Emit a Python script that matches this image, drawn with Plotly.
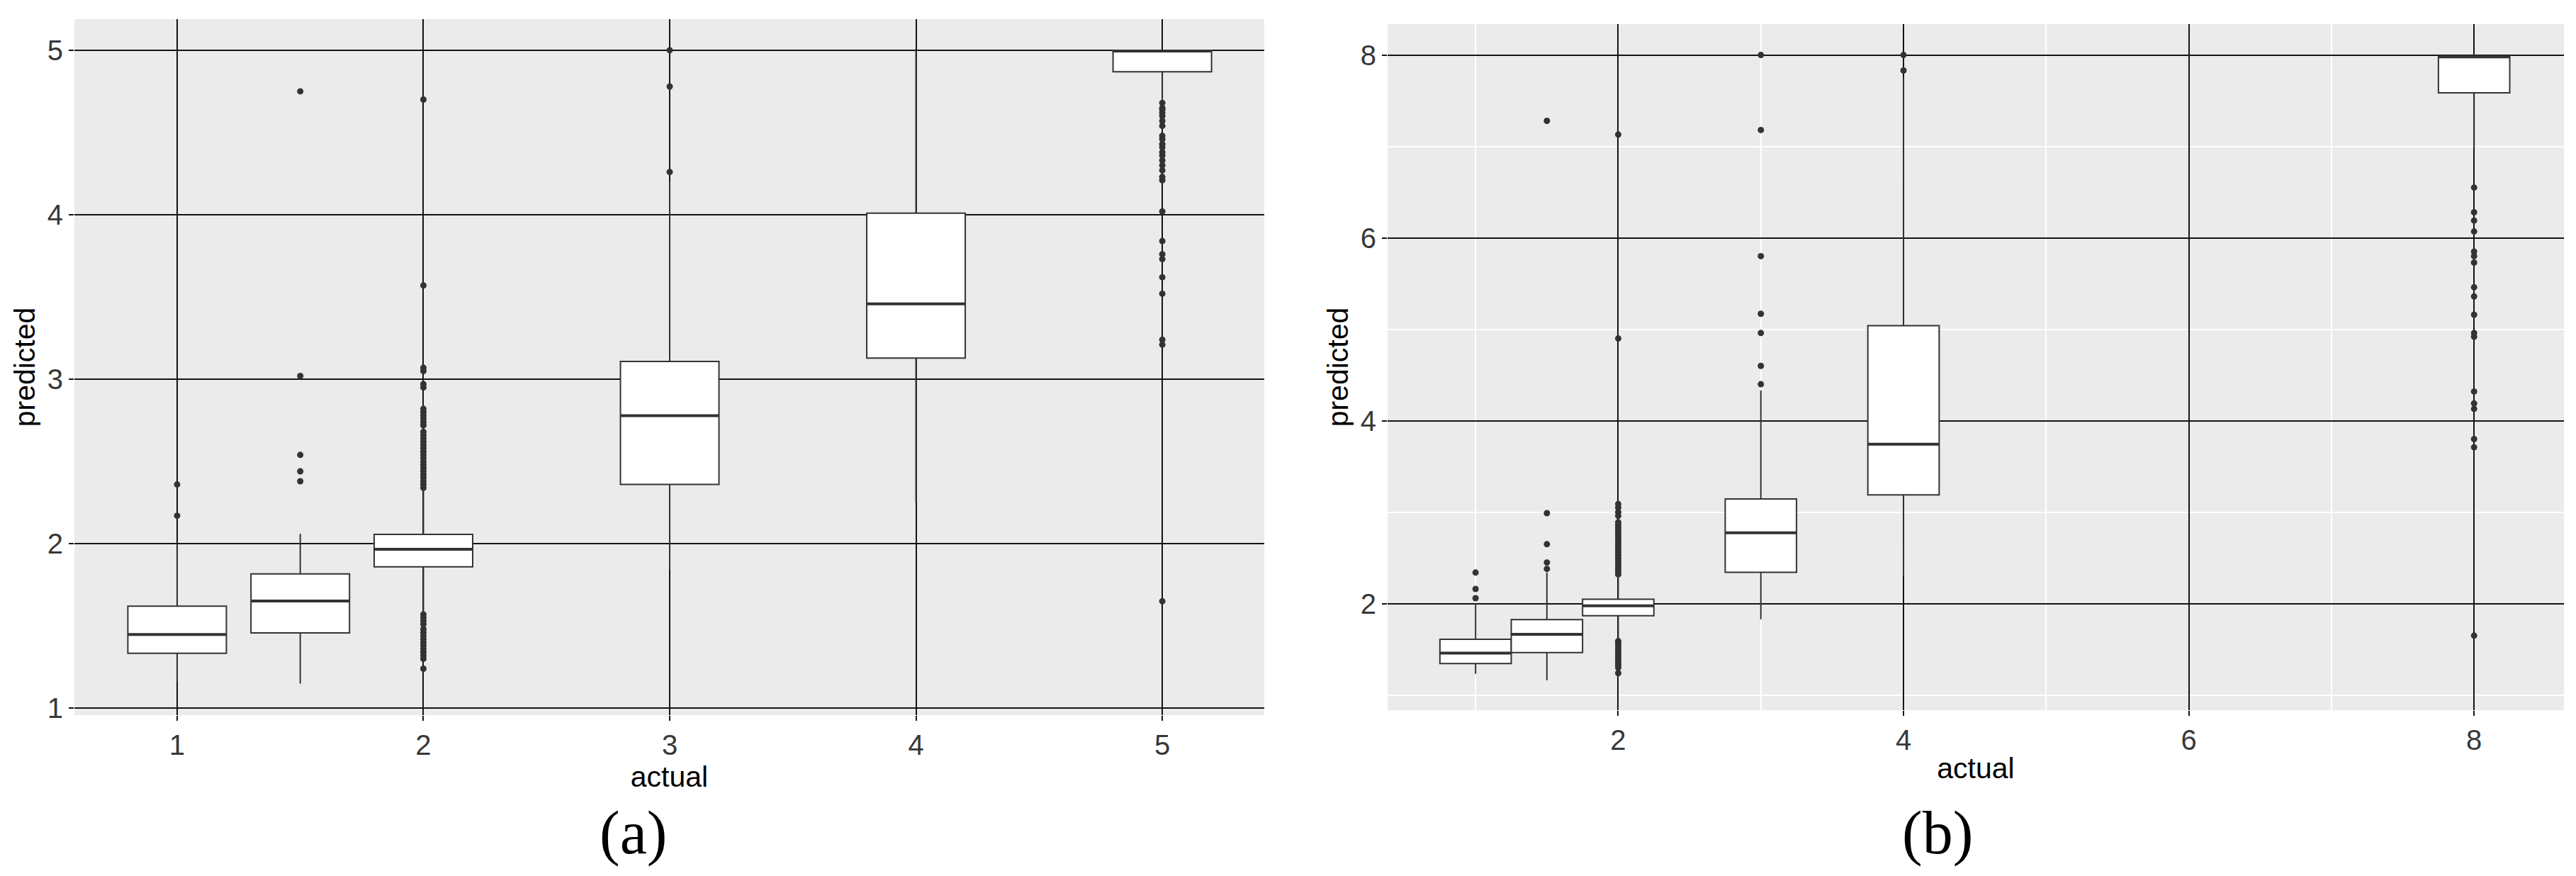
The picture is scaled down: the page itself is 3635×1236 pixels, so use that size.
import plotly.graph_objects as go

# ---- panel (a) ----
a_pos = [1, 1.5, 2, 3, 4, 5]
a_q1 = [1.334, 1.458, 1.859, 2.36, 3.128, 4.869]
a_med = [1.448, 1.652, 1.966, 2.778, 3.458, 4.995]
a_q3 = [1.62, 1.816, 2.057, 3.108, 4.01, 5.0]
a_lo = [1.16, 1.15, 1.58, 1.84, 2.25, 4.69]
a_hi = [2.0, 2.06, 2.33, 4.2, 5.0, 5.0]

a_out_1 = [2.17, 2.36]
a_out_15 = [2.38, 2.44, 2.54, 3.02, 4.75]
a_out_2 = [1.24, 1.30, 1.32, 1.34, 1.36, 1.38, 1.40, 1.42, 1.44, 1.46, 1.48,
           1.51, 1.53, 1.55, 1.57,
           2.34, 2.36, 2.38, 2.40, 2.42, 2.44, 2.46, 2.48, 2.50, 2.52, 2.54,
           2.56, 2.58, 2.60, 2.62, 2.64, 2.66, 2.68, 2.72, 2.74, 2.76, 2.78,
           2.80, 2.82, 2.95, 2.97, 3.05, 3.07, 3.57, 4.70]
a_out_3 = [4.26, 4.78, 5.0]
a_out_4 = []
a_out_5 = [1.65, 3.21, 3.24, 3.52, 3.62, 3.73, 3.76, 3.84, 4.02, 4.21, 4.23,
           4.27, 4.30, 4.33, 4.36, 4.38, 4.41, 4.43, 4.46, 4.48, 4.54, 4.57,
           4.60, 4.62, 4.64, 4.65, 4.68]

# ---- panel (b) ----
b_pos = [1, 1.5, 2, 3, 4, 8]
b_q1 = [1.345, 1.465, 1.867, 2.343, 3.19, 7.587]
b_med = [1.459, 1.664, 1.977, 2.775, 3.743, 7.98]
b_q3 = [1.611, 1.825, 2.048, 3.145, 5.04, 7.99]
b_lo = [1.232, 1.163, 1.62, 1.83, 2.3, 6.97]
b_hi = [2.0, 2.34, 2.30, 4.33, 7.75, 8.0]

b_out_1 = [2.06, 2.16, 2.34]
b_out_15 = [2.38, 2.45, 2.65, 2.99, 7.28]
b_out_2 = [1.24, 1.30, 1.33, 1.36, 1.39, 1.42, 1.45, 1.48, 1.51, 1.54, 1.57,
           1.59,
           2.32, 2.35, 2.38, 2.41, 2.44, 2.47, 2.50, 2.53, 2.56, 2.59, 2.62,
           2.65, 2.68, 2.71, 2.74, 2.77, 2.80, 2.83, 2.86, 2.89, 2.96, 3.00,
           3.05, 3.09, 4.90, 7.13]
b_out_3 = [4.40, 4.60, 4.96, 5.17, 5.80, 7.18, 8.0]
b_out_4 = [7.83, 8.0]
b_out_8 = [1.65, 3.71, 3.80, 4.13, 4.19, 4.32, 4.92, 4.96, 5.16, 5.36, 5.46,
           5.73, 5.80, 5.85, 6.07, 6.19, 6.28, 6.55]

a_xticks = [1, 2, 3, 4, 5]
a_xlabels = ["1", "2", "3", "4", "5"]
a_yticks = [1, 2, 3, 4, 5]
a_ylabels = ["1", "2", "3", "4", "5"]
b_xticks = [2, 4, 6, 8]
b_xlabels = ["2", "4", "6", "8"]
b_yticks = [2, 4, 6, 8]
b_ylabels = ["2", "4", "6", "8"]
b_minor = [1, 3, 5, 7]

INK = "#333333"
GRID = "#141414"
FONT = "Liberation Sans, Arial, sans-serif"


def add_panel(fig, pos, q1, med, q3, lo, hi, outs, width, xa, ya):
    fig.add_trace(go.Box(
        x=pos, q1=q1, median=med, q3=q3, lowerfence=lo, upperfence=hi,
        width=width, whiskerwidth=0, boxpoints=False,
        fillcolor="white", line=dict(color=INK, width=2),
        xaxis=xa, yaxis=ya, showlegend=False, hoverinfo="skip"
    ))
    # thicker median bar, like ggplot
    mx, my = [], []
    for p, m in zip(pos, med):
        mx += [p - width / 2, p + width / 2, None]
        my += [m, m, None]
    fig.add_trace(go.Scatter(
        x=mx, y=my, mode="lines", line=dict(color=INK, width=4),
        xaxis=xa, yaxis=ya, showlegend=False, hoverinfo="skip"
    ))
    ox, oy = [], []
    for p, vals in zip(pos, outs):
        ox += [p] * len(vals)
        oy += vals
    fig.add_trace(go.Scatter(
        x=ox, y=oy, mode="markers",
        marker=dict(color=INK, size=9, line=dict(width=0)),
        xaxis=xa, yaxis=ya, showlegend=False, hoverinfo="skip"
    ))


fig = go.Figure()
add_panel(fig, a_pos, a_q1, a_med, a_q3, a_lo, a_hi,
          [a_out_1, a_out_15, a_out_2, a_out_3, a_out_4, a_out_5], 0.4, "x", "y")
add_panel(fig, b_pos, b_q1, b_med, b_q3, b_lo, b_hi,
          [b_out_1, b_out_15, b_out_2, b_out_3, b_out_4, b_out_8], 0.5, "x2", "y2")

W, H = 3635, 1236
tick_font = dict(family=FONT, size=40, color="#383838")
title_font = dict(family=FONT, size=41, color="black")

axis_common = dict(
    showgrid=True, gridcolor=GRID, gridwidth=2, zeroline=False,
    ticks="outside", ticklen=7, tickwidth=2, tickcolor=GRID,
    showline=False, tickfont=tick_font,
)

fig.update_layout(
    width=W, height=H,
    margin=dict(l=0, r=0, t=0, b=0),
    paper_bgcolor="white",
    plot_bgcolor="#EBEBEB",
    font=dict(family=FONT),
    xaxis=dict(axis_common, domain=[97 / W, 1776 / W], anchor="y",
               range=[0.583, 5.414], tickvals=a_xticks, ticktext=a_xlabels,
               title=dict(text="actual", font=title_font, standoff=4)),
    yaxis=dict(axis_common, domain=[1 - 1011 / H, 1 - 19 / H], anchor="x",
               range=[0.957, 5.19], tickvals=a_yticks, ticktext=a_ylabels,
               title=dict(text="predicted", font=title_font, standoff=4)),
    xaxis2=dict(axis_common, domain=[1950 / W, 3610 / W], anchor="y2",
                range=[0.383, 8.63], tickvals=b_xticks, ticktext=b_xlabels,
                minor=dict(tickvals=b_minor, showgrid=True, gridcolor="white",
                           gridwidth=2, ticks=""),
                title=dict(text="actual", font=title_font, standoff=4)),
    yaxis2=dict(axis_common, domain=[1 - 1004 / H, 1 - 26 / H], anchor="x2",
                range=[0.833, 8.34], tickvals=b_yticks, ticktext=b_ylabels,
                minor=dict(tickvals=b_minor, showgrid=True, gridcolor="white",
                           gridwidth=2, ticks=""),
                title=dict(text="predicted", font=title_font, standoff=4)),
    annotations=[
        dict(text="(a)", x=885 / W, y=1 - 1178 / H, xref="paper", yref="paper",
             showarrow=False, xanchor="center", yanchor="middle",
             font=dict(family="Liberation Serif, Times New Roman, serif",
                       size=86, color="black")),
        dict(text="(b)", x=2726 / W, y=1 - 1178 / H, xref="paper", yref="paper",
             showarrow=False, xanchor="center", yanchor="middle",
             font=dict(family="Liberation Serif, Times New Roman, serif",
                       size=86, color="black")),
    ],
)

fig.write_html("out.html")
